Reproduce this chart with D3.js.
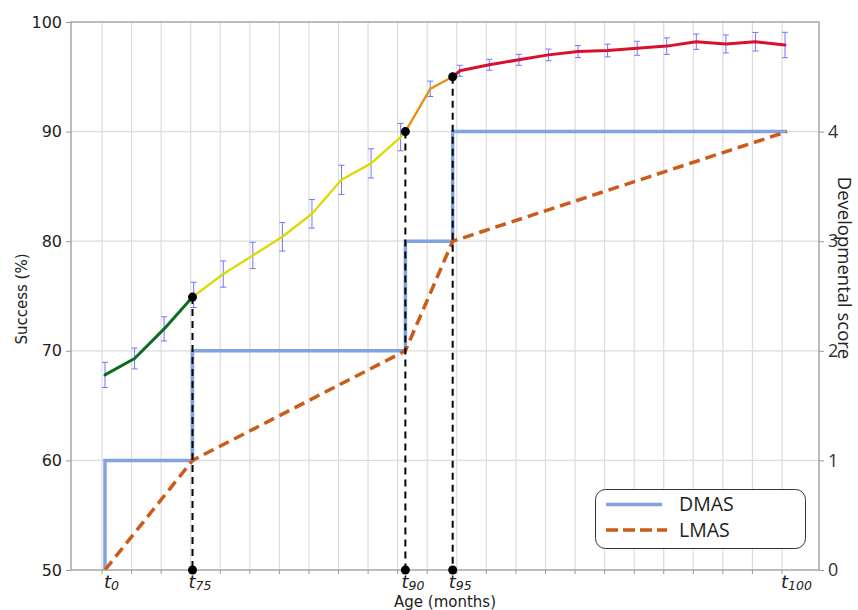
<!DOCTYPE html>
<html>
<head>
<meta charset="utf-8">
<script src="https://cdn.jsdelivr.net/npm/d3@7"></script>
<style>
  html, body { margin: 0; padding: 0; background: #fff; }
  svg { display: block; }
</style>
</head>
<body>
<svg id="chart" width="858" height="610"></svg>
<script>
// ---------------- DATA ----------------
const monthIndex = [0,1,2,3,4,5,6,7,8,9,10,11,12,13,14,15,16,17,18,19,20,21,22,23];
const success = [67.8, 69.3, 72.0, 75.1, 77.0, 78.7, 80.4, 82.5, 85.6, 87.1, 89.5, 93.9,
                 95.55, 96.1, 96.55, 97.0, 97.3, 97.4, 97.6, 97.8, 98.2, 98.0, 98.2, 97.9];
const successErr = [1.15, 0.95, 1.1, 1.15, 1.2, 1.2, 1.3, 1.3, 1.33, 1.33, 1.25, 0.7,
                    0.5, 0.5, 0.5, 0.53, 0.55, 0.58, 0.64, 0.75, 0.7, 0.82, 0.85, 1.16];
const tNames = ["0", "75", "90", "95", "100"];
const tPos = [0, 2.96, 10.16, 11.76, 23];
const tSuccess = [67.8, 74.9, 90.0, 95.0, 97.9];
const dmasScore = [0, 1, 2, 3, 4];
const lmasScore = [0, 1, 2, 3, 4];
const leftTicks = [50, 60, 70, 80, 90, 100];
const rightTicks = [0, 1, 2, 3, 4];
const segColors = ["#0e6b24", "#dcda06", "#e8921e", "#d8102e"];
const segWidths = [3, 2.4, 2.4, 3];

// ---------------- LAYOUT ----------------
const svg = d3.select("#chart");
const plot = { left: 71, right: 819, top: 22, bottom: 570 };
const x = d3.scaleLinear().domain([0, 23]).range([105, 785]);
const y = d3.scaleLinear().domain([50, 100]).range([plot.bottom, plot.top]);
const y2 = d3.scaleLinear().domain([0, 5]).range([plot.bottom, plot.top]);
const gridShift = -3;
const gridColor = "#dcdcdc";
const spineColor = "#999";

// vertical grid
svg.append("g").selectAll("line").data(monthIndex).join("line")
  .attr("x1", d => x(d) + gridShift).attr("x2", d => x(d) + gridShift)
  .attr("y1", plot.top).attr("y2", plot.bottom)
  .attr("stroke", gridColor).attr("stroke-width", 1.2);
// horizontal grid
svg.append("g").selectAll("line").data(leftTicks.filter(v => v > 50 && v < 100)).join("line")
  .attr("x1", plot.left).attr("x2", plot.right)
  .attr("y1", d => y(d)).attr("y2", d => y(d))
  .attr("stroke", gridColor).attr("stroke-width", 1.2);

// x ticks (small, no labels)
svg.append("g").selectAll("line").data(monthIndex).join("line")
  .attr("x1", d => x(d) + gridShift).attr("x2", d => x(d) + gridShift)
  .attr("y1", plot.bottom).attr("y2", plot.bottom + 4)
  .attr("stroke", spineColor).attr("stroke-width", 1);

// left axis
const leftAxis = d3.axisLeft(y).tickValues(leftTicks).tickSize(5).tickPadding(4);
const gl = svg.append("g").attr("transform", `translate(${plot.left},0)`).call(leftAxis);
gl.select(".domain").remove();
gl.selectAll("line").attr("stroke", spineColor);
gl.selectAll("text").attr("font-family", "DejaVu Sans").attr("font-size", 16).attr("fill", "#222");

// right axis
const rightAxis = d3.axisRight(y2).tickValues(rightTicks).tickFormat(d3.format("d")).tickSize(5).tickPadding(4);
const gr = svg.append("g").attr("transform", `translate(${plot.right},0)`).call(rightAxis);
gr.select(".domain").remove();
gr.selectAll("line").attr("stroke", spineColor);
gr.selectAll("text").attr("font-family", "Open Sans").attr("font-size", 18).attr("fill", "#333");

// DMAS step line: (t0,0) up to (t0,1), across to (t75,1), up to (t75,2) ...
const dmasPath = [[tPos[0], dmasScore[0]]];
for (let i = 1; i < dmasScore.length; i++) {
  dmasPath.push([tPos[i - 1], dmasScore[i]]);
  if (i < dmasScore.length - 1) dmasPath.push([tPos[i], dmasScore[i]]);
}
dmasPath.push([tPos[tPos.length - 1] + 0.07, dmasScore[dmasScore.length - 1]]);
const lineGen = d3.line().x(d => x(d[0])).y(d => y2(d[1]));
svg.append("path").attr("d", lineGen(dmasPath))
  .attr("fill", "none").attr("stroke", "#82a3e0").attr("stroke-width", 3.5)
  .attr("stroke-linejoin", "miter");

// LMAS dashed
const lmasPath = lmasScore.map((s, i) => [tPos[i] + (i === 4 ? 0.07 : 0), s]);
svg.append("path").attr("d", lineGen(lmasPath))
  .attr("fill", "none").attr("stroke", "#cc5b16").attr("stroke-width", 3.5)
  .attr("stroke-dasharray", "11,6");

// black dashed verticals
const marks = [1, 2, 3];
svg.append("g").selectAll("line").data(marks).join("line")
  .attr("x1", i => x(tPos[i])).attr("x2", i => x(tPos[i]))
  .attr("y1", i => y(tSuccess[i])).attr("y2", plot.bottom)
  .attr("stroke", "#000").attr("stroke-width", 2).attr("stroke-dasharray", "7,5");

// error bars
const eb = svg.append("g").attr("stroke", "#5c5cff").attr("stroke-width", 1).attr("opacity", 0.85);
monthIndex.forEach((k, i) => {
  const cx = x(k), y1 = y(success[i] + successErr[i]), y0 = y(success[i] - successErr[i]);
  eb.append("line").attr("x1", cx).attr("x2", cx).attr("y1", y1).attr("y2", y0);
  eb.append("line").attr("x1", cx - 3).attr("x2", cx + 3).attr("y1", y1).attr("y2", y1);
  eb.append("line").attr("x1", cx - 3).attr("x2", cx + 3).attr("y1", y0).attr("y2", y0);
});

// success segments
const sLine = d3.line().x(d => x(d[0])).y(d => y(d[1]));
for (let s = 0; s < 4; s++) {
  const a = tPos[s], b = tPos[s + 1];
  const pts = [[a, s === 0 ? success[0] : tSuccess[s]]];
  monthIndex.forEach((k, i) => { if (k > a + 0.05 && k < b - 0.05) pts.push([k, success[i]]); });
  pts.push([b, s === 3 ? success[23] : tSuccess[s + 1]]);
  svg.append("path").attr("d", sLine(pts))
    .attr("fill", "none").attr("stroke", segColors[s]).attr("stroke-width", segWidths[s])
    .attr("stroke-linejoin", "round").attr("stroke-linecap", "round");
}

// dots on curve
svg.append("g").selectAll("circle").data(marks).join("circle")
  .attr("cx", i => x(tPos[i])).attr("cy", i => y(tSuccess[i])).attr("r", 4.5).attr("fill", "#000");

// spines
svg.append("rect").attr("x", plot.left).attr("y", plot.top)
  .attr("width", plot.right - plot.left).attr("height", plot.bottom - plot.top)
  .attr("fill", "none").attr("stroke", spineColor).attr("stroke-width", 1.3);
// dots on axis
svg.append("g").selectAll("circle").data(marks).join("circle")
  .attr("cx", i => x(tPos[i])).attr("cy", plot.bottom).attr("r", 4.5).attr("fill", "#000");

// t labels
const tl = svg.append("g").attr("font-family", "DejaVu Sans").attr("font-style", "italic").attr("fill", "#222");
tNames.forEach((n, i) => {
  const t = tl.append("text").attr("x", x(tPos[i]) - (i === 0 ? 1 : 4)).attr("y", 588);
  t.append("tspan").attr("font-size", 18).text("t");
  t.append("tspan").attr("font-size", 12.5).attr("dy", 1.5).text(n);
});

// axis titles
svg.append("text").attr("x", (plot.left + plot.right) / 2).attr("y", 607)
  .attr("text-anchor", "middle").attr("font-family", "DejaVu Sans").attr("font-size", 15)
  .attr("fill", "#222").text("Age (months)");
svg.append("text").attr("transform", `translate(27,${(plot.top + plot.bottom) / 2 + 3}) rotate(-90)`)
  .attr("text-anchor", "middle").attr("font-family", "DejaVu Sans").attr("font-size", 15)
  .attr("fill", "#222").text("Success (%)");
svg.append("text").attr("transform", `translate(838,268) rotate(90)`)
  .attr("text-anchor", "middle").attr("font-family", "Open Sans").attr("font-size", 18.5)
  .attr("fill", "#222").text("Developmental score");

// legend
const lg = svg.append("g");
lg.append("rect").attr("x", 595.5).attr("y", 489.5).attr("width", 210).attr("height", 59)
  .attr("rx", 10).attr("fill", "#fff").attr("stroke", "#333").attr("stroke-width", 1);
lg.append("line").attr("x1", 606).attr("x2", 662).attr("y1", 504.5).attr("y2", 504.5)
  .attr("stroke", "#82a3e0").attr("stroke-width", 3.5);
lg.append("line").attr("x1", 606).attr("x2", 667).attr("y1", 530).attr("y2", 530)
  .attr("stroke", "#cc5b16").attr("stroke-width", 3.5).attr("stroke-dasharray", "12,5");
lg.append("text").attr("x", 679).attr("y", 511).attr("font-family", "Open Sans").attr("font-size", 19.5)
  .attr("fill", "#222").text("DMAS");
lg.append("text").attr("x", 679).attr("y", 537).attr("font-family", "Open Sans").attr("font-size", 19.5)
  .attr("fill", "#222").text("LMAS");
</script>
</body>
</html>
